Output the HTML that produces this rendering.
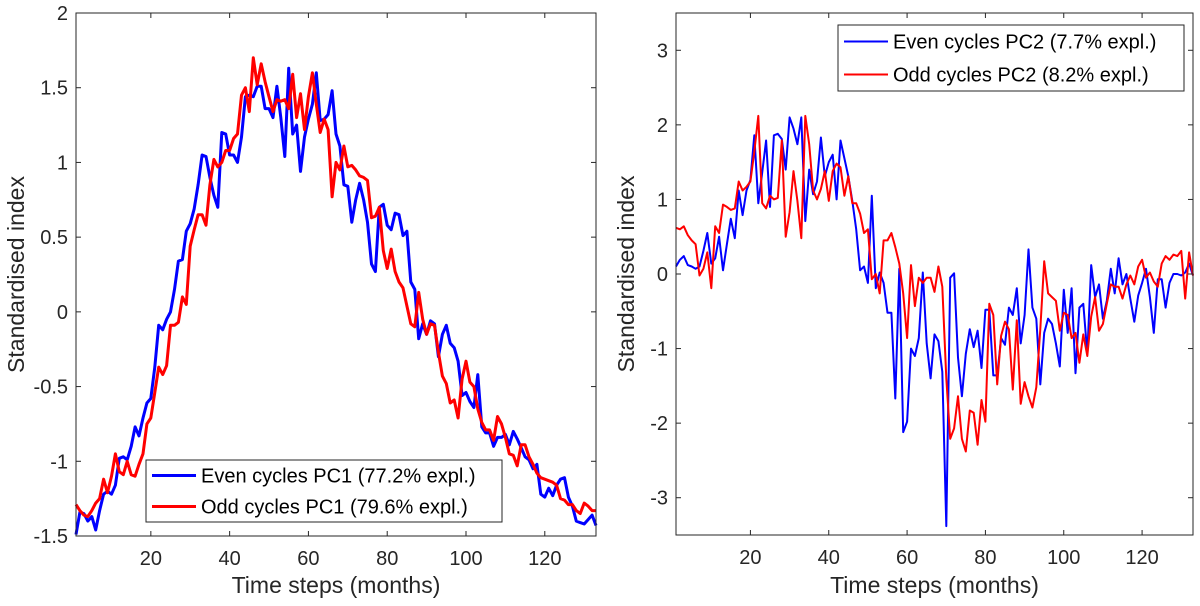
<!DOCTYPE html>
<html><head><meta charset="utf-8"><style>
html,body{margin:0;padding:0;background:#fff;}
svg{display:block;font-family:"Liberation Sans",Arial,sans-serif;}
</style></head><body>
<svg id="fig" width="1200" height="606" viewBox="0 0 1200 606" xmlns="http://www.w3.org/2000/svg"></svg>
<script>
const months = Array.from({length:133},(_,i)=>i+1);
const xTicks = [20,40,60,80,100,120];
const pc1Ticks = [-1.5,-1,-0.5,0,0.5,1,1.5,2];
const pc1TickLabels = ["-1.5","-1","-0.5","0","0.5","1","1.5","2"];
const pc2Ticks = [-3,-2,-1,0,1,2,3];
const pc2TickLabels = ["-3","-2","-1","0","1","2","3"];
const evenPC1 = [-1.49,-1.34,-1.35,-1.40,-1.37,-1.46,-1.33,-1.22,-1.20,-1.22,-1.16,-0.98,-0.97,-0.99,-0.90,-0.77,-0.83,-0.71,-0.61,-0.58,-0.37,-0.09,-0.12,-0.05,0.00,0.15,0.34,0.35,0.54,0.59,0.69,0.85,1.05,1.04,0.90,0.78,0.70,1.20,1.19,1.05,1.05,1.00,1.17,1.44,1.45,1.44,1.51,1.51,1.36,1.36,1.30,1.51,1.30,1.04,1.63,1.19,1.25,0.94,1.17,1.29,1.39,1.60,1.28,1.29,1.32,1.48,1.19,1.11,0.85,0.84,0.60,0.75,0.86,0.75,0.60,0.32,0.27,0.70,0.72,0.58,0.55,0.66,0.65,0.51,0.54,0.20,0.15,-0.18,-0.08,-0.15,-0.06,-0.08,-0.30,-0.15,-0.09,-0.21,-0.24,-0.33,-0.56,-0.54,-0.60,-0.64,-0.42,-0.77,-0.81,-0.81,-0.90,-0.84,-0.84,-0.82,-0.89,-0.80,-0.85,-0.91,-0.97,-0.99,-1.05,-1.02,-1.22,-1.24,-1.18,-1.23,-1.16,-1.12,-1.11,-1.24,-1.30,-1.40,-1.41,-1.42,-1.39,-1.36,-1.43];
const oddPC1 = [-1.29,-1.33,-1.36,-1.37,-1.33,-1.28,-1.25,-1.12,-1.21,-1.10,-0.95,-1.07,-1.09,-1.00,-1.09,-1.10,-1.02,-0.95,-0.75,-0.71,-0.54,-0.37,-0.42,-0.36,-0.09,-0.09,-0.07,0.10,0.05,0.44,0.55,0.65,0.65,0.58,0.85,1.02,0.97,1.00,1.08,1.08,1.16,1.19,1.45,1.50,1.34,1.70,1.52,1.66,1.54,1.44,1.34,1.42,1.41,1.42,1.36,1.59,1.30,1.46,1.22,1.44,1.60,1.39,1.20,1.29,1.22,0.77,1.00,0.95,1.11,0.97,0.98,0.95,0.91,0.90,0.88,0.63,0.64,0.70,0.41,0.29,0.42,0.27,0.20,0.16,0.04,-0.08,-0.10,0.13,-0.05,-0.15,-0.08,-0.09,-0.27,-0.43,-0.48,-0.61,-0.59,-0.71,-0.45,-0.33,-0.47,-0.50,-0.65,-0.74,-0.79,-0.79,-0.86,-0.70,-0.75,-0.84,-0.95,-0.96,-1.03,-0.89,-0.89,-0.97,-1.02,-1.08,-1.11,-1.12,-1.13,-1.14,-1.16,-1.25,-1.26,-1.29,-1.29,-1.33,-1.35,-1.28,-1.30,-1.33,-1.33];
const evenPC2 = [0.10,0.19,0.24,0.12,0.10,0.07,0.10,0.31,0.55,0.14,0.21,0.50,0.05,0.40,0.74,0.48,1.12,0.79,1.12,1.26,1.86,0.95,1.36,1.79,0.90,1.86,1.88,1.81,1.40,2.10,1.95,1.74,2.10,0.71,1.40,1.07,1.24,1.83,1.31,1.50,1.60,1.00,1.79,1.55,1.31,0.98,0.60,0.05,0.10,-0.12,1.05,-0.19,0.02,-0.12,-0.52,-0.52,-1.67,0.07,-2.12,-1.98,-1.00,-1.10,-0.86,0.02,-0.93,-1.40,-0.81,-0.90,-1.31,-3.38,-0.05,0.01,-1.12,-1.64,-1.07,-0.74,-0.98,-0.76,-1.26,-0.48,-0.48,-1.36,-1.36,-0.86,-0.95,-0.45,-0.55,-0.19,-0.93,-0.55,0.33,-0.45,-0.60,-1.48,-0.79,-0.60,-0.67,-0.93,-1.24,-0.21,-0.79,-0.19,-1.33,-0.45,-0.40,-1.07,0.12,-0.31,-0.14,-0.60,-0.36,0.07,-0.26,0.21,-0.14,0.00,-0.33,-0.64,-0.29,-0.12,0.07,-0.31,-0.79,-0.07,-0.07,-0.45,-0.12,0.00,0.00,-0.02,0.02,0.14,-0.02];
const oddPC2 = [0.62,0.60,0.64,0.52,0.45,0.40,-0.02,0.07,0.29,-0.19,0.64,0.55,0.93,0.90,0.86,0.88,1.24,1.12,1.17,1.24,1.64,2.12,0.95,0.88,1.05,1.00,1.02,1.79,0.50,0.83,1.38,0.98,0.48,2.12,1.74,1.12,1.00,1.14,1.38,0.98,1.38,1.48,1.43,1.05,1.31,0.95,0.95,0.81,0.55,0.60,-0.07,0.00,-0.26,0.45,0.45,0.55,0.36,0.14,-0.26,-0.86,0.12,-0.43,-0.05,-0.12,-0.05,-0.05,-0.24,0.10,-0.17,-1.40,-2.21,-2.07,-1.64,-2.21,-2.38,-1.83,-1.86,-2.29,-1.69,-1.98,-0.40,-0.55,-1.48,-0.83,-0.64,-0.74,-1.55,-0.62,-1.74,-1.45,-1.64,-1.79,-1.52,-0.74,0.17,-0.26,-0.31,-0.36,-0.76,-0.52,-0.55,-0.86,-0.79,-1.19,-0.81,-1.10,-0.57,-0.31,-0.76,-0.67,-0.40,-0.14,-0.17,-0.17,-0.33,-0.14,-0.02,-0.14,0.10,0.19,-0.05,0.02,-0.10,-0.17,0.14,0.24,0.19,0.26,0.24,0.31,-0.33,0.29,-0.02];

const NS="http://www.w3.org/2000/svg";
const svg=document.getElementById('fig');
function mk(tag,attrs,parent){const e=document.createElementNS(NS,tag);for(const k in attrs)e.setAttribute(k,attrs[k]);(parent||svg).appendChild(e);return e;}

function drawPanel(p){
  const g=mk('g',{});
  
  
  const sx=v=>p.x0+(v-1)/(133-1)*(p.x1-p.x0);
  const sy=v=>p.y1-(v-p.ymin)/(p.ymax-p.ymin)*(p.y1-p.y0);
  const bg=mk('rect',{x:p.x0,y:p.y0,width:p.x1-p.x0,height:p.y1-p.y0,fill:'#fff'},g);
  
  
  p.series.forEach(s=>{
    const d=months.map((m,i)=>(i?'L':'M')+sx(m).toFixed(1)+','+sy(s.data[i]).toFixed(1)).join('');
    const pa=mk('path',{d:d,fill:'none',stroke:s.color,'stroke-width':p.lw,'stroke-linejoin':'round'},g);
    
    
  });
  const box=mk('rect',{x:p.x0,y:p.y0,width:p.x1-p.x0,height:p.y1-p.y0,fill:'none',stroke:'#262626','stroke-width':1},g);
  
  
  xTicks.forEach(t=>{
    const x=sx(t);
    mk('line',{x1:x,x2:x,y1:p.y1,y2:p.y1-5,stroke:'#262626'},g);
    mk('line',{x1:x,x2:x,y1:p.y0,y2:p.y0+5,stroke:'#262626'},g);
    const tx=mk('text',{x:x,y:p.y1+29,'font-size':20,'text-anchor':'middle',fill:'#262626'},g);
    tx.textContent=t;
    
    
  });
  p.yt.forEach((t,i)=>{
    const y=sy(t);
    mk('line',{x1:p.x0,x2:p.x0+5,y1:y,y2:y,stroke:'#262626'},g);
    mk('line',{x1:p.x1,x2:p.x1-5,y1:y,y2:y,stroke:'#262626'},g);
    const tx=mk('text',{x:p.x0-8,y:y+7,'font-size':20,'text-anchor':'end',fill:'#262626'},g);
    tx.textContent=p.ytl[i];
    
    
  });
  const xl=mk('text',{x:(p.x0+p.x1)/2,y:593,'font-size':23,'text-anchor':'middle',fill:'#262626'},g);
  xl.textContent='Time steps (months)';
  
  
  const yl=mk('text',{x:0,y:0,'font-size':23,'text-anchor':'middle',fill:'#262626',transform:`translate(${p.ylx},${(p.y0+p.y1)/2}) rotate(-90)`},g);
  yl.textContent='Standardised index';
  
  
  const L=p.leg;
  const lg=mk('g',{},g);
  
  
  mk('rect',{x:L.x,y:L.y,width:L.w,height:L.h,fill:'#fff',stroke:'#262626','stroke-width':1},lg);
  p.series.forEach((s,i)=>{
    const cy=L.y+L.h*(i*2+1)/4;
    const en=mk('g',{},lg);
    
    
    mk('line',{x1:L.x+6,x2:L.x+50,y1:cy,y2:cy,stroke:s.color,'stroke-width':p.lw},en);
    const t=mk('text',{x:L.x+55,y:cy+7,'font-size':20,fill:'#000'},en);
    t.textContent=s.label;
  });
}

drawPanel({name:'pc1-panel',x0:76,x1:596,y0:13,y1:536,ymin:-1.5,ymax:2,yt:pc1Ticks,ytl:pc1TickLabels,ylx:24,lw:3,
  leg:{x:146,y:460,w:356,h:62},
  series:[{name:'even-pc1-line',color:'#0000ff',data:evenPC1,label:'Even cycles PC1 (77.2% expl.)'},
          {name:'odd-pc1-line',color:'#ff0000',data:oddPC1,label:'Odd cycles PC1 (79.6% expl.)'}]});
drawPanel({name:'pc2-panel',x0:676,x1:1193,y0:13,y1:535,ymin:-3.5,ymax:3.5,yt:pc2Ticks,ytl:pc2TickLabels,ylx:634,lw:2,
  leg:{x:838,y:25,w:346,h:66},
  series:[{name:'even-pc2-line',color:'#0000ff',data:evenPC2,label:'Even cycles PC2 (7.7% expl.)'},
          {name:'odd-pc2-line',color:'#ff0000',data:oddPC2,label:'Odd cycles PC2 (8.2% expl.)'}]});
</script>
</body></html>
